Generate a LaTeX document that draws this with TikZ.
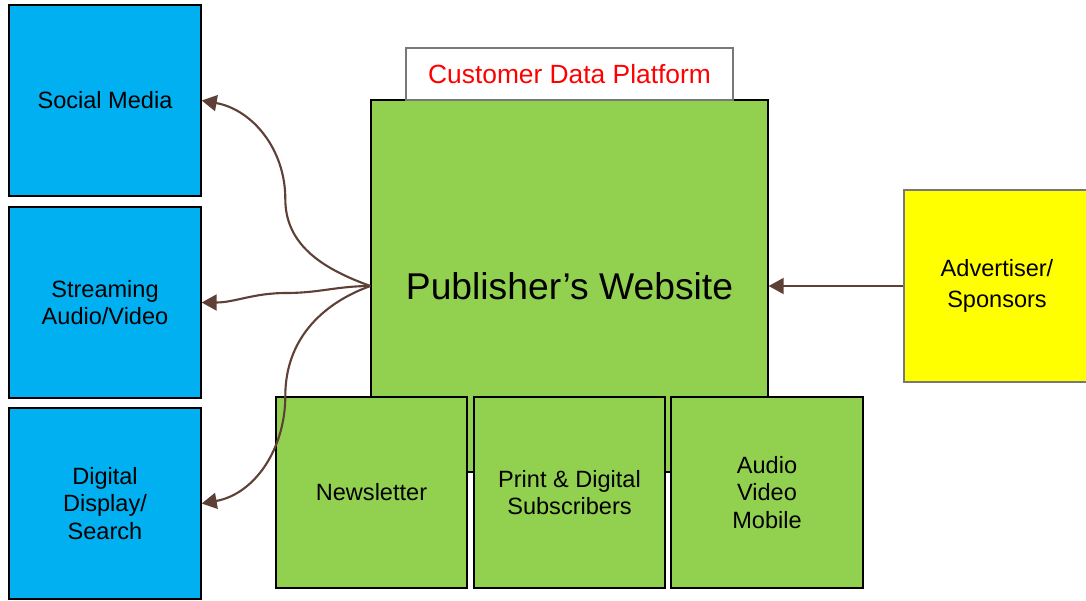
\documentclass[tikz,border=0pt]{standalone}
\usepackage{fontspec}
\setmainfont{Liberation Sans}
\usetikzlibrary{arrows.meta}

\definecolor{skyblue}{RGB}{0,176,240}
\definecolor{leafgreen}{RGB}{146,208,80}
\definecolor{brightyellow}{RGB}{255,255,0}
\definecolor{linkbrown}{RGB}{94,64,54}
\definecolor{rimgray}{RGB}{120,120,120}

\tikzset{
	box/.style={draw=black, line width=0.4pt, inner sep=0pt, align=center,
		font=\fontsize{6.7}{7.9}\selectfont},
	channel/.style={box, fill=skyblue, minimum width=1.92cm, minimum height=1.91cm},
	product/.style={box, fill=leafgreen, minimum width=1.91cm, minimum height=1.91cm},
	link/.style={draw=linkbrown, line width=0.6pt, -{Triangle[length=1.5mm,width=1.6mm]}}
}

\begin{document}
\begin{tikzpicture}
	\useasboundingbox[fill=white] (0,0) rectangle (10.86,6);
	% Site central et plateforme
	\node[box, fill=leafgreen, minimum width=3.97cm, minimum height=3.72cm,
		font=\fontsize{10.6}{12}\selectfont] (pub) at (5.695,3.14) {\raisebox{-0.6mm}{Publisher’s Website}};
	\node[box, draw=rimgray, fill=white, minimum width=3.27cm, minimum height=0.52cm,
		text=red, font=\fontsize{7.5}{9}\selectfont] (cdp) at (5.695,5.26) {\raisebox{-0.4mm}{Customer Data Platform}};
	% Produits
	\node[product] (news) at (3.715,1.075) {Newsletter};
	\node[product] (subs) at (5.695,1.075) {Print \& Digital\\Subscribers};
	\node[product, minimum width=1.92cm] (media) at (7.67,1.075) {Audio\\Video\\Mobile};
	% Canaux
	\node[channel] (social) at (1.05,4.995) {Social Media};
	\node[channel] (stream) at (1.05,2.975) {Streaming\\Audio/Video};
	\node[channel] (display) at (1.05,0.965) {Digital\\Display/\\Search};
	\node[box, draw=rimgray, fill=brightyellow, minimum width=1.86cm, minimum height=1.92cm,
		font=\fontsize{6.7}{8.6}\selectfont] (adv) at (9.97,3.14) {Advertiser/\\Sponsors};
	% Liens
	\draw[link] (pub.west) to[out=160,in=-90] ++(-0.85,0.87) to[out=90,in=-10] (social.east);
	\draw[link] (pub.west) to[out=180,in=0] ++(-0.84,-0.07) to[out=180,in=0] (stream.east);
	\draw[link] (pub.west) to[out=200,in=90] ++(-0.85,-1.1) to[out=-90,in=10] (display.east);
	\draw[link] (adv.west) -- (pub.east);
\end{tikzpicture}
\end{document}
